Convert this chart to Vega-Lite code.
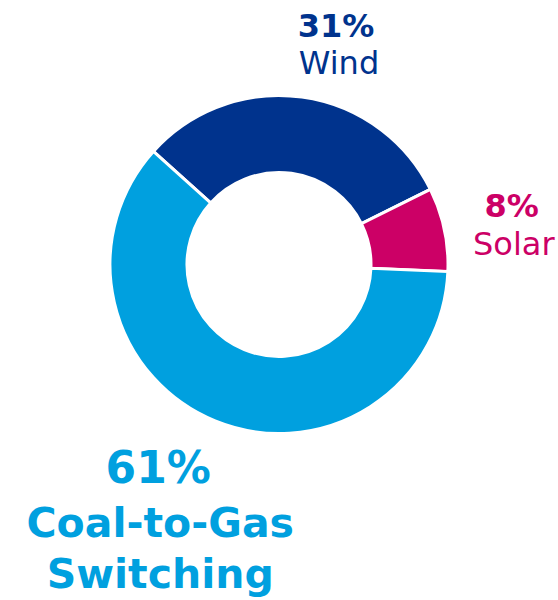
{
  "$schema": "https://vega.github.io/schema/vega-lite/v6.json",
  "width": 558,
  "height": 529,
  "autosize": "none",
  "padding": {"left": 0, "top": 0, "right": 0, "bottom": 71},
  "background": "white",
  "config": {"view": {"stroke": null}, "font": "DejaVu Sans"},
  "data": {"values": [
    {"source": "Wind", "share": 31, "order": 1, "pct": "31%"},
    {"source": "Solar", "share": 8, "order": 2, "pct": "8%"},
    {"source": "Coal-to-Gas Switching", "share": 61, "order": 3, "pct": "61%"}
  ]},
  "encoding": {
    "theta": {"field": "share", "type": "quantitative", "stack": true, "scale": {"range": [-0.8378, 5.4454]}},
    "order": {"field": "order", "type": "quantitative"},
    "detail": {"field": "source", "type": "nominal"}
  },
  "layer": [
    {
      "mark": {"type": "arc", "outerRadius": 169, "innerRadius": 92, "stroke": "white", "strokeWidth": 3},
      "encoding": {
        "color": {"field": "source", "type": "nominal", "legend": null,
          "scale": {"domain": ["Wind", "Solar", "Coal-to-Gas Switching"], "range": ["#00338D", "#CC0066", "#00A0DF"]}}
      }
    },
    {
      "mark": {"type": "text", "radius": 210, "dx": 28.5, "dy": -19.4, "fontSize": 32, "fontWeight": "bold", "color": "#00338D", "align": "center", "baseline": "alphabetic"},
      "encoding": {"text": {"field": "pct", "type": "nominal", "condition": {"test": "datum.source !== 'Wind'", "value": ""}}}
    },
    {
      "mark": {"type": "text", "radius": 210, "dx": 31.5, "dy": 17.6, "fontSize": 32, "fontWeight": "normal", "color": "#00338D", "align": "center", "baseline": "alphabetic"},
      "encoding": {"text": {"field": "source", "type": "nominal", "condition": {"test": "datum.source !== 'Wind'", "value": ""}}}
    },
    {
      "mark": {"type": "text", "radius": 240, "dx": -2, "dy": 2.4, "fontSize": 32, "fontWeight": "bold", "color": "#CC0066", "align": "center", "baseline": "alphabetic"},
      "encoding": {"text": {"field": "pct", "type": "nominal", "condition": {"test": "datum.source !== 'Solar'", "value": ""}}}
    },
    {
      "mark": {"type": "text", "radius": 240, "dx": 0, "dy": 40.4, "fontSize": 32, "fontWeight": "normal", "color": "#CC0066", "align": "center", "baseline": "alphabetic"},
      "encoding": {"text": {"field": "source", "type": "nominal", "condition": {"test": "datum.source !== 'Solar'", "value": ""}}}
    },
    {
      "mark": {"type": "text", "radius": 280, "dx": -15, "dy": -41, "fontSize": 44, "fontWeight": "bold", "color": "#00A0DF", "align": "center", "baseline": "alphabetic"},
      "encoding": {"text": {"field": "pct", "type": "nominal", "condition": {"test": "datum.source !== 'Coal-to-Gas Switching'", "value": ""}}}
    },
    {
      "mark": {"type": "text", "radius": 280, "dx": -13, "dy": 13, "fontSize": 41, "fontWeight": "bold", "color": "#00A0DF", "align": "center", "baseline": "alphabetic", "lineBreak": " ", "lineHeight": 51},
      "encoding": {"text": {"field": "source", "type": "nominal", "condition": {"test": "datum.source !== 'Coal-to-Gas Switching'", "value": ""}}}
    }
  ]
}
